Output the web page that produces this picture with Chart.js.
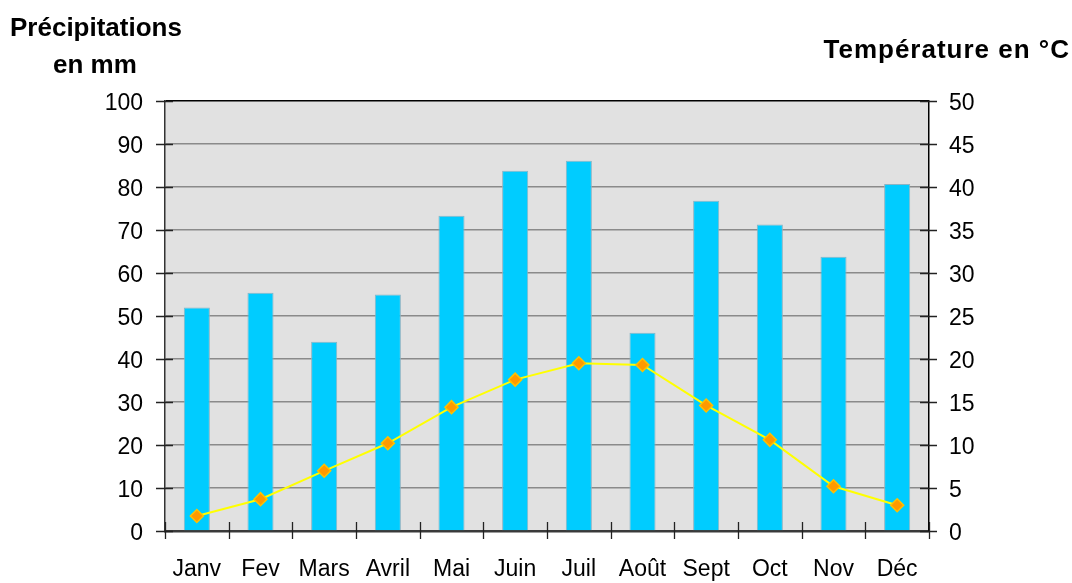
<!DOCTYPE html>
<html>
<head>
<meta charset="utf-8">
<script src="https://cdn.jsdelivr.net/npm/chart.js@4"></script>
<style>
  html,body{margin:0;padding:0;background:#fff;}
  #wrap{width:1072px;height:583px;position:relative;}
</style>
</head>
<body>
<div id="wrap"><canvas id="grafico" width="1072" height="583"></canvas></div>
<script>
/* ===================== données ===================== */
const mois   = ['Janv','Fev','Mars','Avril','Mai','Juin','Juil','Août','Sept','Oct','Nov','Déc'];
const precip = [52, 55.4, 44, 55, 73.3, 83.8, 86.1, 46.1, 76.8, 71.3, 63.8, 80.7];
const temp   = [1.75, 3.7, 7, 10.2, 14.4, 17.6, 19.5, 19.3, 14.6, 10.6, 5.2, 3];
const precipTicks = [0,10,20,30,40,50,60,70,80,90,100];
const tempTicks   = [0,5,10,15,20,25,30,35,40,45,50];

const FONT = '"Liberation Sans", Arial, sans-serif';

/* ---------- fond + graduations croisées ---------- */
const decor = {
  id:'decor',
  beforeDraw(c){
    const {ctx, chartArea:a} = c;
    ctx.save();
    ctx.fillStyle = '#e1e1e1';
    ctx.fillRect(a.left, a.top, a.right-a.left, a.bottom-a.top);
    ctx.restore();
  },
  afterDraw(c){
    const {ctx, chartArea:a, scales} = c;
    ctx.save();
    ctx.lineWidth = 1.3;
    ctx.strokeStyle = '#222';
    ctx.beginPath();
    precipTicks.forEach(v=>{
      const y = Math.round(scales.y.getPixelForValue(v))+.5;
      ctx.moveTo(a.left-9, y); ctx.lineTo(a.left+8, y);
    });
    tempTicks.forEach(v=>{
      const y = Math.round(scales.y2.getPixelForValue(v))+.5;
      ctx.moveTo(a.right-9, y); ctx.lineTo(a.right+8, y);
    });
    const step = (a.right-a.left)/mois.length;
    for(let i=0;i<=mois.length;i++){
      const x = Math.round(a.left+i*step)+.5;
      ctx.moveTo(x, a.bottom-9); ctx.lineTo(x, a.bottom+8);
    }
    ctx.stroke();

    /* titres */
    ctx.fillStyle = '#000';
    ctx.font = 'bold 26px ' + FONT;
    ctx.textAlign = 'left';
    ctx.fillText('Précipitations', 10, 36);
    ctx.fillText('en mm', 53, 73);
    ctx.textAlign = 'right';
    ctx.letterSpacing = '1px';
    ctx.fillText('Température en °C', 1070, 58);
    ctx.restore();
  }
};

/* ================= graphique ========================= */
const ctx = document.getElementById('grafico').getContext('2d');
new Chart(ctx,{
  data:{
    labels:mois,
    datasets:[
      {type:'line', label:'Température', data:temp, yAxisID:'y2', order:0,
       borderColor:'#ffff00', borderWidth:2, tension:0,
       pointStyle:'rectRot', pointRadius:6.5, pointBackgroundColor:'#ff9900',
       pointBorderColor:'#ffc000', pointBorderWidth:1.5},
      {type:'bar', label:'Précipitations', data:precip, yAxisID:'y', order:1,
       backgroundColor:'#00ccff', borderColor:'#8ab4c4', borderWidth:1,
       categoryPercentage:1, barPercentage:0.41}
    ]
  },
  options:{
    responsive:false,
    animation:false,
    layout:{padding:{top:101,left:0,right:0,bottom:0}},
    plugins:{legend:{display:false}, tooltip:{enabled:false}},
    scales:{
      x:{
        offset:true,
        grid:{display:false, drawTicks:false},
        border:{display:true, color:'#3a3a3a', width:2.5},
        ticks:{color:'#000', padding:25, font:{family:FONT, size:23}},
        afterFit(s){ s.height = 52; }
      },
      y:{
        position:'left', min:0, max:100,
        afterBuildTicks(s){ s.ticks = precipTicks.map(v=>({value:v})); },
        grid:{drawTicks:false, lineWidth:1.5,
              color:c=>c.tick && c.tick.value===100 ? '#000' : '#8a8a8a'},
        border:{display:true, color:'#333', width:1.5},
        ticks:{color:'#000', padding:22, labelOffset:3, font:{family:FONT, size:23}},
        afterFit(s){ s.width = 165; }
      },
      y2:{
        position:'right', min:0, max:50,
        afterBuildTicks(s){ s.ticks = tempTicks.map(v=>({value:v})); },
        grid:{drawOnChartArea:false, drawTicks:false},
        border:{display:true, color:'#000', width:1.5},
        ticks:{color:'#000', padding:20, labelOffset:3, font:{family:FONT, size:23}},
        afterFit(s){ s.width = 143; }
      }
    }
  },
  plugins:[decor]
});
</script>
</body>
</html>
